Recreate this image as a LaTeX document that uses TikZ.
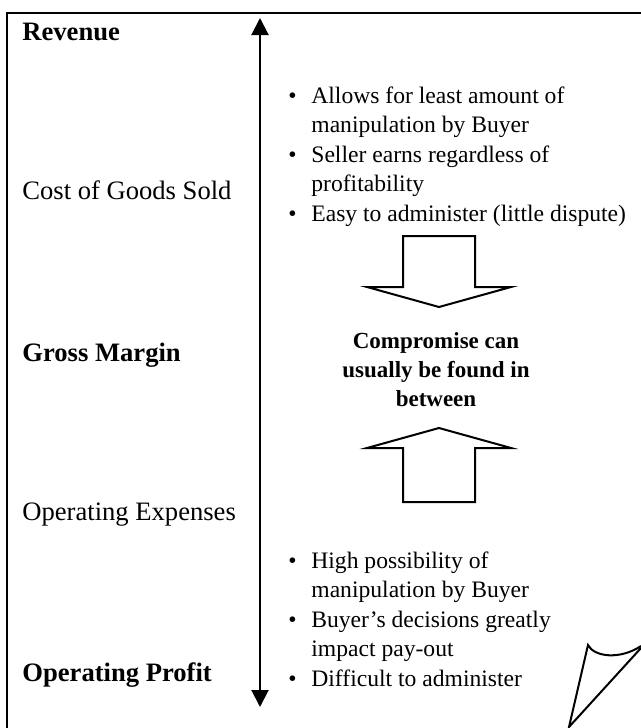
\documentclass[tikz,border=0pt]{standalone}
\usepackage{fontspec}
\setmainfont{Liberation Serif}
\usetikzlibrary{arrows.meta}

\tikzset{
  level/.style={anchor=base west, inner sep=0pt, font=\fontsize{13.3}{16}\selectfont},
  total/.style={anchor=base west, inner sep=0pt, font=\fontsize{13.3}{16}\selectfont\bfseries},
  points/.style={anchor=base west, inner sep=0pt, font=\fontsize{11.8}{14.75}\selectfont},
  hint/.style={anchor=base, inner sep=0pt, align=center, font=\fontsize{11.5}{14.5}\selectfont\bfseries},
  blockarrow/.style={draw, line width=1pt, line join=miter},
  axisarrow/.style={line width=1pt, {Triangle[length=8.5pt,width=8.5pt]}-{Triangle[length=8.5pt,width=8.5pt]}},
}

\begin{document}
\begin{tikzpicture}[x=0.5pt, y=-0.5pt]
        \useasboundingbox (0,0) rectangle (641,728);
        \clip (0,0) rectangle (641,728);
        \draw[line width=1pt] (7,740) -- (7,13) -- (650,13);

        \node[total] (revenue) at (22,40) {Revenue};
        \node[level] (cogs) at (22,199) {Cost of Goods Sold};
        \node[total] (margin) at (22,361) {Gross Margin};
        \node[level] (opex) at (22,520) {Operating Expenses};
        \node[total] (profit) at (22,681) {Operating Profit};

        \coordinate (axis top) at (260,18);
        \coordinate (axis bottom) at (260,707);
        \draw[axisarrow] (axis top) -- (axis bottom);

        \node[points] (pros) at (288,103) {\begin{tabular}[t]{@{}p{11.5pt}@{}l@{}}
          \textbullet & Allows for least amount of\\
                      & manipulation by Buyer\\
          \textbullet & Seller earns regardless of\\
                      & profitability\\
          \textbullet & Easy to administer (little dispute)
        \end{tabular}};
        \node[points] (cons) at (288,568) {\begin{tabular}[t]{@{}p{11.5pt}@{}l@{}}
          \textbullet & High possibility of\\
                      & manipulation by Buyer\\
          \textbullet & Buyer’s decisions greatly\\
                      & impact pay-out\\
          \textbullet & Difficult to administer
        \end{tabular}};

        \node[hint] (middle) at (436,406) {Compromise can\\usually be found in\\between};

        \draw[blockarrow] (403,236) -- (475,236) -- (475,287) -- (511,287) -- (439,307)
          -- (367,287) -- (403,287) -- cycle;
        \draw[blockarrow] (403,502) -- (475,502) -- (475,448) -- (511,448) -- (439,428)
          -- (367,448) -- (403,448) -- cycle;

        % page curl
        \draw[line width=1pt, line join=miter] (641,646) .. controls (620,660) and (594,657) .. (588,645)
          -- (569,727) -- (641,648);
\end{tikzpicture}
\end{document}
